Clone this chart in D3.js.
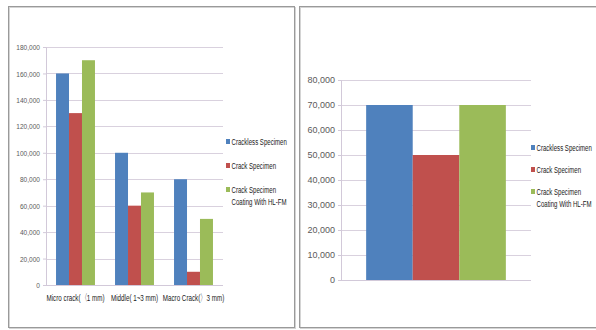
<!DOCTYPE html>
<html>
<head>
<meta charset="utf-8">
<script src="https://cdn.jsdelivr.net/npm/d3@7"></script>
<style>
  body { margin: 0; background: #fff; }
  svg { display: block; }
  text { font-family: "Liberation Sans", Arial, sans-serif; }
</style>
</head>
<body>
<div id="chart"></div>
<script>
// left chart data
let categories = ["Micro crack(〈1 mm)", "Middle( 1~3 mm)", "Macro Crack(〉3 mm)"];
let crackless = [160000, 100000, 80000];
let crack = [130000, 60000, 10000];
let coated = [170000, 70000, 50000];
let leftTicks = [0, 20000, 40000, 60000, 80000, 100000, 120000, 140000, 160000, 180000];

// right chart data
let rightValues = [70000, 50000, 70000];
let rightTicks = [0, 10000, 20000, 30000, 40000, 50000, 60000, 70000, 80000];

let seriesNames = ["Crackless Specimen", "Crack Specimen", "Crack Specimen|Coating With HL-FM"];
let colors = ["#4f81bd", "#c0504d", "#9bbb59"];

let width = 596;
let height = 330;

let svg = d3.select("#chart").append("svg")
  .attr("width", width)
  .attr("height", height);

// squeeze a text horizontally (the reference uses a narrow font)
function squeeze(sel, k) {
  sel.each(function() {
    let t = d3.select(this);
    let x = +t.attr("x") || 0;
    let y = +t.attr("y") || 0;
    t.attr("x", 0).attr("y", 0)
      .attr("transform", "translate(" + x + "," + y + ") scale(" + k + ",1)");
  });
}

// panel frames
function frame(x, y, w, h) {
  svg.append("rect")
    .attr("x", x + 1).attr("y", y + 1)
    .attr("width", w).attr("height", h)
    .attr("fill", "none").attr("stroke", "#d4d4d4").attr("stroke-width", 1);
  svg.append("rect")
    .attr("x", x).attr("y", y)
    .attr("width", w).attr("height", h)
    .attr("fill", "none").attr("stroke", "#9a9a9a").attr("stroke-width", 1);
}
frame(8.5, 6.5, 286, 321);
frame(299.5, 6.5, 300, 321);

let fmt = d3.format(",");

function yAxisDraw(g, yScale, ticks, x0, x1, fontSize, k) {
  g.selectAll(".grid").data(ticks).enter()
    .append("line")
    .attr("x1", x0).attr("x2", x1)
    .attr("y1", d => Math.round(yScale(d)) + 0.5)
    .attr("y2", d => Math.round(yScale(d)) + 0.5)
    .attr("stroke", "#d9d1de").attr("stroke-width", 1.2);

  let axis = d3.axisLeft(yScale).tickValues(ticks).tickFormat(fmt).tickSize(3).tickPadding(3);
  let ag = g.append("g").attr("transform", "translate(" + x0 + ",0)").call(axis);
  ag.select(".domain").attr("stroke", "#d2c9d9");
  ag.selectAll(".tick line").attr("stroke", "#d2c9d9");
  ag.selectAll(".tick text")
    .attr("fill", "#5a5a5a")
    .attr("font-size", fontSize)
    .attr("font-family", "'Liberation Sans', sans-serif")
    .call(squeeze, k);
}

function legendDraw(g, x, y, rowGap) {
  seriesNames.forEach(function(name, i) {
    let lines = name.split("|");
    let yy = y + i * rowGap;
    g.append("rect")
      .attr("x", x).attr("y", yy - 4)
      .attr("width", 4).attr("height", 5)
      .attr("fill", colors[i]);
    lines.forEach(function(line, j) {
      g.append("text")
        .attr("x", x + 5.5).attr("y", yy + 2 + j * 12)
        .attr("font-size", 9.5)
        .attr("fill", "#1a1a1a")
        .text(line)
        .call(squeeze, 0.64);
    });
  });
}

// ---------- left chart ----------
let left = svg.append("g");
let lx0 = 46, lx1 = 223;
let ly = d3.scaleLinear().domain([0, 180000]).range([285, 47]);
let lx = d3.scaleBand().domain(categories).range([lx0, lx1]).paddingInner(0.34).paddingOuter(0.17);
let sub = d3.scaleBand().domain([0, 1, 2]).range([0, lx.bandwidth()]);

yAxisDraw(left, ly, leftTicks, lx0, lx1, 8, 0.82);

let groups = [crackless, crack, coated];
groups.forEach(function(vals, s) {
  left.selectAll(".bar" + s).data(vals).enter()
    .append("rect")
    .attr("x", (d, i) => lx(categories[i]) + sub(s))
    .attr("y", d => ly(d))
    .attr("width", sub.bandwidth())
    .attr("height", d => ly(0) - ly(d))
    .attr("fill", colors[s]);
});

left.append("line")
  .attr("x1", lx0).attr("x2", lx1)
  .attr("y1", ly(0) + 0.5).attr("y2", ly(0) + 0.5)
  .attr("stroke", "#d2c9d9");

left.selectAll(".cat").data(categories).enter()
  .append("text")
  .attr("x", d => lx(d) + lx.bandwidth() / 2)
  .attr("y", 301)
  .attr("text-anchor", "middle")
  .attr("font-size", 9.5)
  .attr("fill", "#1a1a1a")
  .text(d => d)
  .call(squeeze, 0.66);

legendDraw(left, 226, 143, 24);

// ---------- right chart ----------
let right = svg.append("g");
let rx0 = 341, rx1 = 531;
let ry = d3.scaleLinear().domain([0, 80000]).range([280, 80]);
let rx = d3.scaleBand().domain(["all"]).range([rx0, rx1]).paddingOuter(0.18).paddingInner(0);
let rsub = d3.scaleBand().domain([0, 1, 2]).range([0, rx.bandwidth()]);

yAxisDraw(right, ry, rightTicks, rx0, rx1, 9, 1);

right.selectAll(".rbar").data(rightValues).enter()
  .append("rect")
  .attr("x", (d, i) => rx("all") + rsub(i))
  .attr("y", d => ry(d))
  .attr("width", rsub.bandwidth())
  .attr("height", d => ry(0) - ry(d))
  .attr("fill", (d, i) => colors[i]);

right.append("line")
  .attr("x1", rx0).attr("x2", rx1)
  .attr("y1", ry(0) + 0.5).attr("y2", ry(0) + 0.5)
  .attr("stroke", "#d2c9d9");

legendDraw(right, 531, 149, 22);
</script>
</body>
</html>
